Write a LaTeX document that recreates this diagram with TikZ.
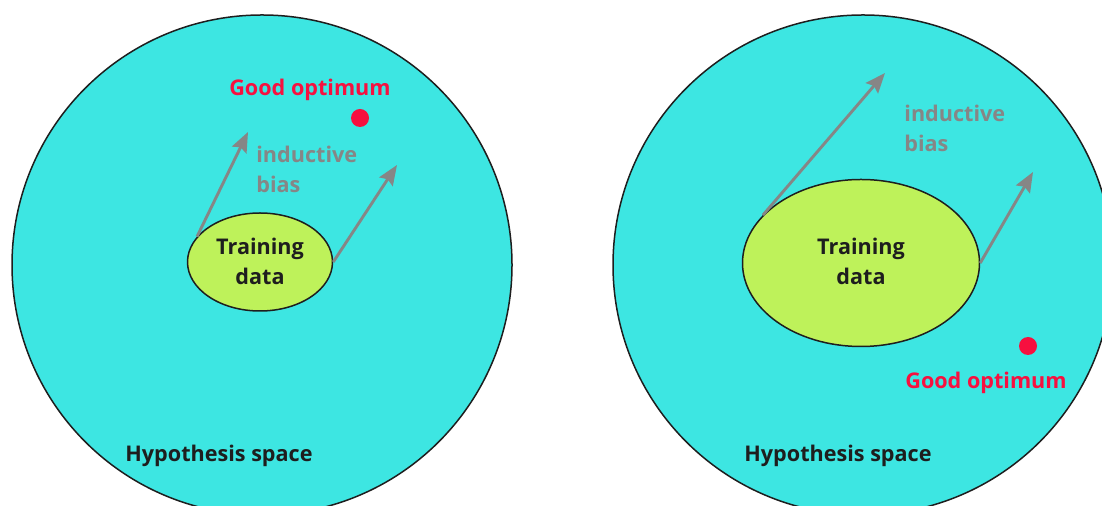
\documentclass[tikz,border=0pt]{standalone}
\usepackage{fontspec}
\setmainfont{Open Sans}
\usepackage{xcolor}
\usetikzlibrary{arrows.meta,shapes.geometric}

\definecolor{spacecyan}{HTML}{3DE6E2}
\definecolor{datagreen}{HTML}{BEF25A}
\definecolor{optred}{HTML}{F7103F}
\definecolor{biasgray}{HTML}{868686}
\definecolor{inkdark}{HTML}{1E1E1E}

\begin{document}
\begin{tikzpicture}[x=0.5pt,y=-0.5pt,
  space/.style={circle,draw=inkdark,line width=0.75pt,fill=spacecyan,minimum size=250pt,inner sep=0pt},
  data/.style={ellipse,draw=inkdark,line width=0.75pt,fill=datagreen,inner sep=0pt},
  lbl/.style={font=\fontsize{10.8}{15}\selectfont\bfseries,inner sep=0pt},
  opt/.style={circle,fill=optred,minimum size=9pt,inner sep=0pt},
  bias/.style={-{Stealth[length=10pt,width=8pt,inset=1.5pt]},line width=1.45pt,biasgray}]
\clip (0,0) rectangle (1102,506);
% left: optimum far from the bias direction
\node[space] (lspace) at (262,265) {};
\node[data,minimum width=72.5pt,minimum height=49pt] (ldata) at (260,262) {};
\node[lbl,align=center,text=inkdark] (ltxt) at (260,261) {Training\\data};
\node[opt] (lopt) at (360,118) {};
\node[lbl,text=optred] (loptlbl) at (310,90) {Good optimum};
\node[lbl,text=biasgray,align=left,anchor=west] (lbias) at (256,169) {inductive\\bias};
\node[lbl,text=inkdark] (lhyp) at (219,456) {Hypothesis space};
\coordinate (lend1) at (248,132);
\coordinate (lend2) at (397,165);
\draw[bias] (ldata.158) -- (lend1);
\draw[bias] (ldata.east) -- (lend2);
% right: larger data set, optimum elsewhere
\node[space] (rspace) at (863,265) {};
\node[data,minimum width=118.5pt,minimum height=83.5pt] (rdata) at (861,263) {};
\node[lbl,align=center,text=inkdark] (rtxt) at (861,261) {Training\\data};
\node[opt] (ropt) at (1028,346) {};
\node[lbl,text=optred] (roptlbl) at (986,383) {Good optimum};
\node[lbl,text=biasgray,align=left,anchor=west] (rbias) at (904,128) {inductive\\bias};
\node[lbl,text=inkdark] (rhyp) at (838,456) {Hypothesis space};
\coordinate (rend1) at (885,73);
\coordinate (rend2) at (1033,172);
\draw[bias] (rdata.154) -- (rend1);
\draw[bias] (rdata.east) -- (rend2);
\end{tikzpicture}
\end{document}
